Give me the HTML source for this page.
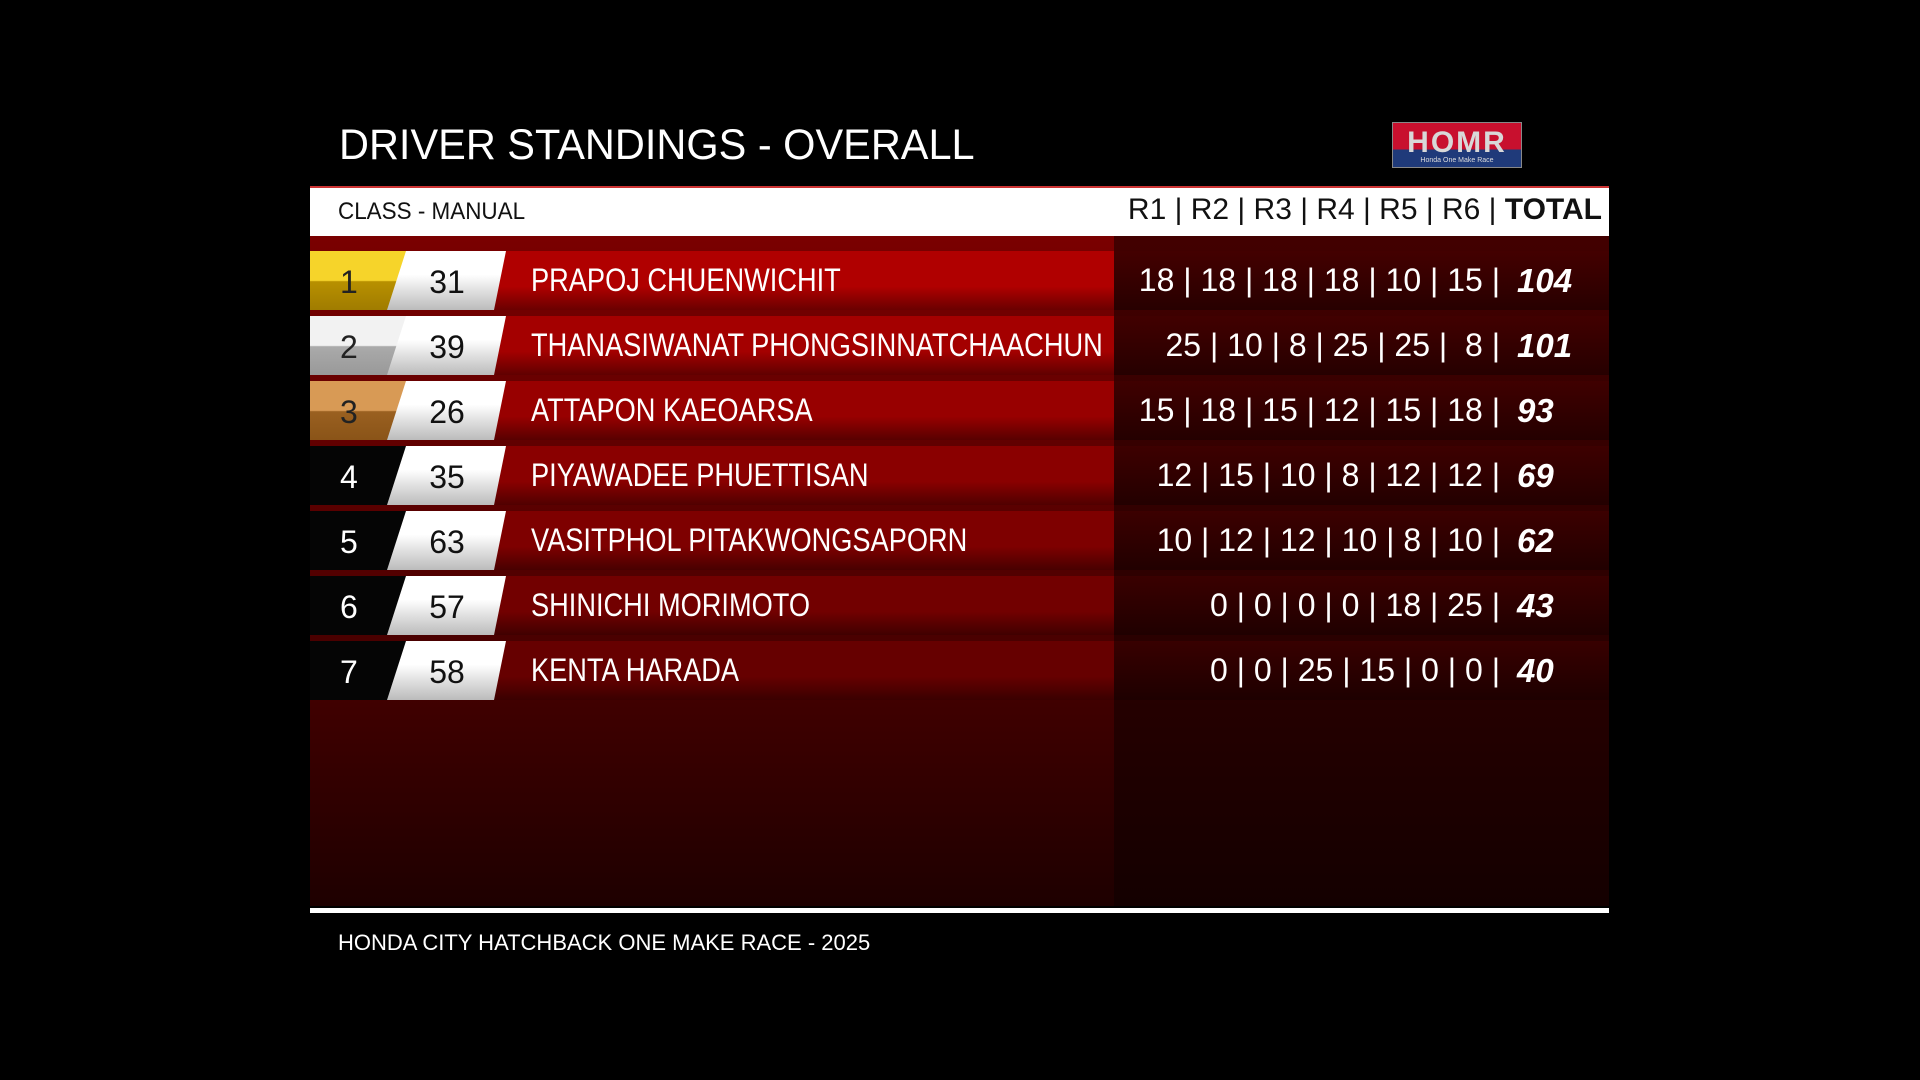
<!DOCTYPE html>
<html><head><meta charset="utf-8"><style>
*{margin:0;padding:0;box-sizing:border-box}
body{width:1920px;height:1080px;background:#000;position:relative;overflow:hidden;font-family:"Liberation Sans",sans-serif;color:#fff}
.abs{position:absolute}
.title{left:339px;top:120px;font-size:43px;white-space:nowrap;transform:scaleX(0.965);transform-origin:left center;line-height:50px}
.hdr{left:310px;top:186px;width:1299px;height:50px;background:#fff;border-top:2px solid #c33}
.cls{left:338px;top:198px;font-size:24px;color:#111;transform:scaleX(0.935);transform-origin:left center;white-space:nowrap}
.rh{right:318px;top:193px;font-size:30px;color:#111;white-space:nowrap}
.panel{left:310px;top:236px;width:1299px;height:670px;background:linear-gradient(#7a0000,#4a0000 60%,#1e0000)}
.dark{left:1114px;top:236px;width:495px;height:670px;background:linear-gradient(#420000,#2a0000 60%,#140000)}
.line{left:310px;top:908px;width:1299px;height:5px;background:#fff}
.row{position:absolute;left:310px;width:1299px;height:59px}
.rbg{position:absolute;left:0;top:0;width:804px;height:59px}
.rdk{position:absolute;left:804px;top:0;width:495px;height:59px;background:linear-gradient(rgba(70,0,0,.5),rgba(25,0,0,.6))}
.pos{position:absolute;left:0;top:0;width:100px;height:59px;font-size:32px;line-height:62px;padding-left:30px}
.num{position:absolute;left:0;top:0;width:200px;height:59px;clip-path:polygon(96px 0,196px 0,184px 59px,77px 59px);background:linear-gradient(#fff 40%,#bbb);}
.numt{position:absolute;left:110px;width:54px;text-align:center;top:0;line-height:62px;font-size:32px;color:#111}
.name{position:absolute;left:221px;top:0;line-height:59px;font-size:32px;white-space:nowrap;transform:scaleX(0.85);transform-origin:left center}
.pts{position:absolute;right:109px;top:0;line-height:59px;font-size:32px;white-space:pre}
.tot{position:absolute;left:1207px;top:0;line-height:59px;font-size:33px;font-weight:bold;font-style:italic}
.foot{left:338px;top:930px;font-size:22px;white-space:nowrap;transform:scaleX(1.0);transform-origin:left center}
.logo{left:1392px;top:122px;width:130px;height:46px;background:linear-gradient(#c8102e 0,#c8102e 60%,#1f3a7a 60%);border:1px solid #888}
</style></head><body>
<div class="abs title">DRIVER STANDINGS - OVERALL</div>
<div class="abs logo"><div style="position:absolute;left:0;top:5px;width:128px;text-align:center;font-size:30px;font-weight:bold;color:#d8d8d8;letter-spacing:2px;line-height:30px">HOMR</div><div style="position:absolute;left:0;top:34px;width:128px;text-align:center;font-size:7px;color:#ddd">Honda One Make Race</div></div>
<div class="abs hdr"></div>
<div class="abs cls">CLASS - MANUAL</div>
<div class="abs rh">R1 | R2 | R3 | R4 | R5 | R6 | <b>TOTAL</b></div>
<div class="abs panel"></div>
<div class="abs dark"></div>

<div class="row" style="top:251px"><div class="rbg" style="background:linear-gradient(#b00000 60%,#6a0000)"></div><div class="rdk"></div><div class="pos" style="background:linear-gradient(#f6d42a 50%,#b89000 52%,#a07c00);color:#222">1</div><div class="num"></div><div class="numt">31</div><div class="name">PRAPOJ CHUENWICHIT</div><div class="pts">18 | 18 | 18 | 18 | 10 | 15 |</div><div class="tot">104</div></div>
<div class="row" style="top:316px"><div class="rbg" style="background:linear-gradient(#a40000 60%,#600000)"></div><div class="rdk"></div><div class="pos" style="background:linear-gradient(#f2f2f2 50%,#aaa 52%,#999);color:#222">2</div><div class="num"></div><div class="numt">39</div><div class="name">THANASIWANAT PHONGSINNATCHAACHUN</div><div class="pts">25 | 10 | 8 | 25 | 25 |  8 |</div><div class="tot">101</div></div>
<div class="row" style="top:381px"><div class="rbg" style="background:linear-gradient(#980000 60%,#580000)"></div><div class="rdk"></div><div class="pos" style="background:linear-gradient(#d89a55 50%,#9a6020 52%,#8a5418);color:#222">3</div><div class="num"></div><div class="numt">26</div><div class="name">ATTAPON KAEOARSA</div><div class="pts">15 | 18 | 15 | 12 | 15 | 18 |</div><div class="tot">93</div></div>
<div class="row" style="top:446px"><div class="rbg" style="background:linear-gradient(#8a0000 60%,#500000)"></div><div class="rdk"></div><div class="pos" style="background:#050505">4</div><div class="num"></div><div class="numt">35</div><div class="name">PIYAWADEE PHUETTISAN</div><div class="pts">12 | 15 | 10 | 8 | 12 | 12 |</div><div class="tot">69</div></div>
<div class="row" style="top:511px"><div class="rbg" style="background:linear-gradient(#7e0000 60%,#480000)"></div><div class="rdk"></div><div class="pos" style="background:#050505">5</div><div class="num"></div><div class="numt">63</div><div class="name">VASITPHOL PITAKWONGSAPORN</div><div class="pts">10 | 12 | 12 | 10 | 8 | 10 |</div><div class="tot">62</div></div>
<div class="row" style="top:576px"><div class="rbg" style="background:linear-gradient(#720000 60%,#400000)"></div><div class="rdk"></div><div class="pos" style="background:#050505">6</div><div class="num"></div><div class="numt">57</div><div class="name">SHINICHI MORIMOTO</div><div class="pts">0 | 0 | 0 | 0 | 18 | 25 |</div><div class="tot">43</div></div>
<div class="row" style="top:641px"><div class="rbg" style="background:linear-gradient(#660000 60%,#3a0000)"></div><div class="rdk"></div><div class="pos" style="background:#050505">7</div><div class="num"></div><div class="numt">58</div><div class="name">KENTA HARADA</div><div class="pts">0 | 0 | 25 | 15 | 0 | 0 |</div><div class="tot">40</div></div>

<div class="abs line"></div>
<div class="abs foot">HONDA CITY HATCHBACK ONE MAKE RACE - 2025</div>
</body></html>
